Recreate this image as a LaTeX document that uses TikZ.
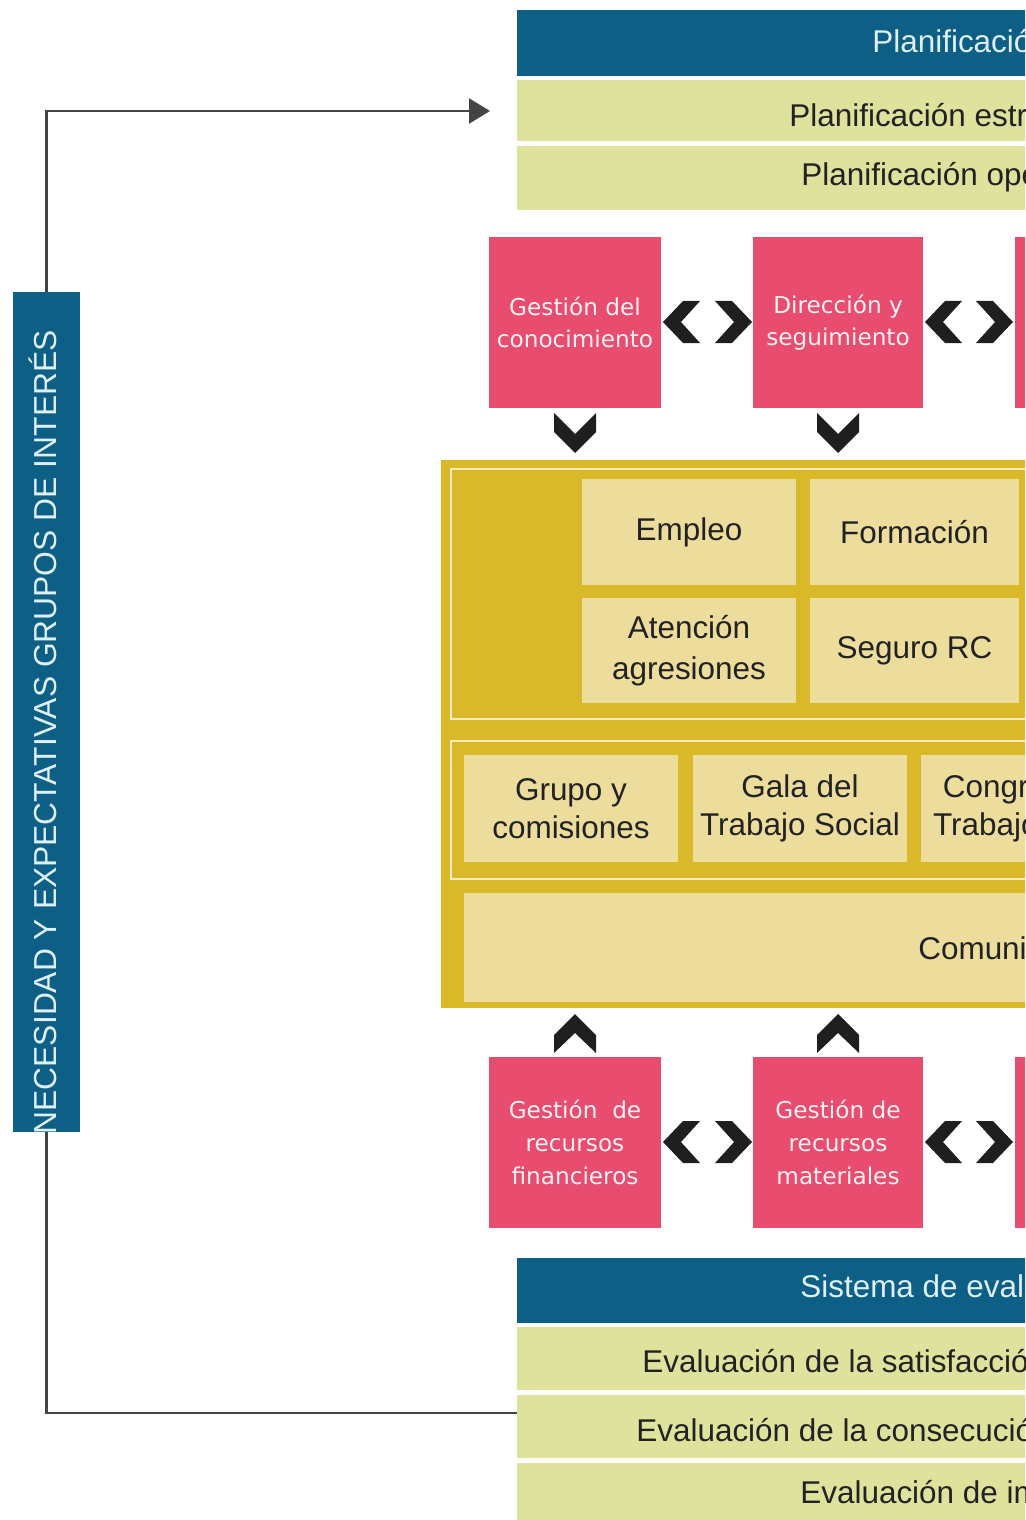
\documentclass[tikz,border=0pt]{standalone}
\usepackage{fontspec}
\setmainfont{Liberation Sans}
\newfontfamily\pinkfont{DejaVu Sans}
\usetikzlibrary{arrows.meta}
\definecolor{cblue}{RGB}{14,95,134}
\definecolor{cgreen}{RGB}{222,226,157}
\definecolor{cpink}{RGB}{232,76,110}
\definecolor{cgold}{RGB}{217,185,42}
\definecolor{ccream}{RGB}{236,221,157}
\definecolor{cframe}{RGB}{246,236,190}
\definecolor{ctext}{RGB}{34,34,34}
\definecolor{clight}{RGB}{222,240,248}
\definecolor{cline}{RGB}{68,68,68}
% \placebox{x1}{y1}{x2}{y2}{name}{style} {text};
\newcommand\placebox[6]{\node[#6, minimum width={(#3-#1)*0.02cm}, minimum height={(#4-#2)*0.02cm}, inner sep=0pt, outer sep=0pt] (#5) at ({(#1+#3)/2},{(#2+#4)/2})}
\begin{document}
\begin{tikzpicture}[x=0.02cm,y=-0.02cm,
  band/.style={fill=cgreen},
  head/.style={fill=cblue},
  pinkbox/.style={fill=cpink, text=white!92!cpink, font=\pinkfont\fontsize{13.2}{18.6}\selectfont, align=center},
  cell/.style={fill=ccream, text=ctext, font=\fontsize{17.9}{21.5}\selectfont, align=center},
  lbl/.style={anchor=base west, inner sep=0pt, font=\fontsize{17.9}{21.5}\selectfont, text=ctext},
  hlbl/.style={lbl, text=clight},
  frameline/.style={draw=cframe, line width=1.2pt},
  chev/.style={fill=black!88},
  conn/.style={draw=cline, line width=1.4pt},
  lchev/.pic={\fill[chev] (0,0) -- (20,-21) -- (37,-21) -- (18,0) -- (37,21) -- (20,21) -- cycle;},
  rchev/.pic={\fill[chev] (0,0) -- (-20,-21) -- (-37,-21) -- (-18,0) -- (-37,21) -- (-20,21) -- cycle;},
  dchev/.pic={\fill[chev] (0,0) -- (-21,-21) -- (-21,-40) -- (0,-19) -- (21,-40) -- (21,-21) -- cycle;},
  uchev/.pic={\fill[chev] (0,0) -- (-21,21) -- (-21,39) -- (0,19) -- (21,39) -- (21,21) -- cycle;},
]
\useasboundingbox (0,0) rectangle (1025,1520);
\clip (0,0) rectangle (1025,1520);

% ---- top planning block
\placebox{517}{10}{1200}{76}{plan}{head} {};
\node[hlbl] (plant) at (872,53) {Planificación};
\placebox{517}{80}{1200}{141}{pe}{band} {};
\node[lbl] (pet) at (789,127) {Planificación estra};
\placebox{517}{146}{1200}{210}{po}{band} {};
\node[lbl] (pot) at (801,186) {Planificación ope};

% ---- pink boxes row 1
\placebox{489}{237}{661}{408}{gk}{pinkbox} {Gestión del\\conocimiento};
\placebox{753}{237}{923}{408}{ds}{pinkbox} {Dirección y\\seguimiento};
\placebox{1015}{237}{1190}{408}{c3}{pinkbox} {};
\pic at (663,322) {lchev};
\pic at (752,322) {rchev};
\pic at (925,322) {lchev};
\pic at (1013,322) {rchev};
\pic at (575,453) {dchev};
\pic at (838,453) {dchev};

% ---- yellow block
\placebox{441}{460}{1200}{1008}{yell}{fill=cgold} {};
\placebox{451}{469}{1200}{719}{fr1}{frameline} {};
\placebox{582}{479}{796}{585}{emp}{cell} {Empleo};
\placebox{810}{479}{1019}{585}{form}{cell} {Formación};
\placebox{582}{598}{796}{703}{aten}{cell} {Atención\\[2pt]agresiones};
\placebox{810}{598}{1019}{703}{seg}{cell} {Seguro RC};
\placebox{451}{741}{1200}{879}{fr2}{frameline} {};
\placebox{464}{755}{678}{862}{grupo}{cell} {Grupo y\\comisiones};
\placebox{693}{755}{907}{862}{gala}{cell} {Gala del\\Trabajo Social};
\placebox{921}{755}{1145}{862}{cong}{cell} {Congreso de\\Trabajo Social};
\placebox{464}{893}{1200}{1002}{comu}{cell} {};
\node[lbl] (comut) at (918,959) {Comunicación};

% ---- pink boxes row 2
\pic at (575,1014) {uchev};
\pic at (838,1014) {uchev};
\placebox{489}{1057}{661}{1228}{rf}{pinkbox} {Gestión~ de\\recursos\\financieros};
\placebox{753}{1057}{923}{1228}{rm}{pinkbox} {Gestión de\\recursos\\materiales};
\placebox{1015}{1057}{1190}{1228}{c4}{pinkbox} {};
\pic at (663,1142) {lchev};
\pic at (752,1142) {rchev};
\pic at (925,1142) {lchev};
\pic at (1013,1142) {rchev};

% ---- evaluation block
\placebox{517}{1258}{1200}{1323}{eval}{head} {};
\node[hlbl] (evalt) at (800,1297) {Sistema de evalu};
\placebox{517}{1327}{1200}{1390}{es}{band} {};
\node[lbl] (est) at (642,1372) {Evaluación de la satisfacción};
\placebox{517}{1395}{1200}{1458}{ec}{band} {};
\node[lbl] (ect) at (636,1441) {Evaluación de la consecución};
\placebox{517}{1463}{1200}{1530}{ei}{band} {};
\node[lbl] (eit) at (800,1503) {Evaluación de im};

% ---- left bar
\placebox{13}{292}{80}{1132}{bar}{head} {};
\begin{scope}
  \clip (bar.north west) rectangle (bar.south east);
  \node[rotate=90, anchor=base east, inner sep=0pt, text=clight,
        font=\fontsize{18.1}{22}\selectfont] (bart) at (56,330)
        {NECESIDAD Y EXPECTATIVAS GRUPOS DE INTERÉS};
\end{scope}

% ---- loop connectors
\coordinate (arrowend) at (490,111);
\coordinate (loopend) at (517,1413);
\draw[conn, -{Triangle[length=0.42cm,width=0.5cm]}] (bar.north) |- (arrowend);
\draw[conn] (bar.south) |- (loopend);
\end{tikzpicture}
\end{document}
